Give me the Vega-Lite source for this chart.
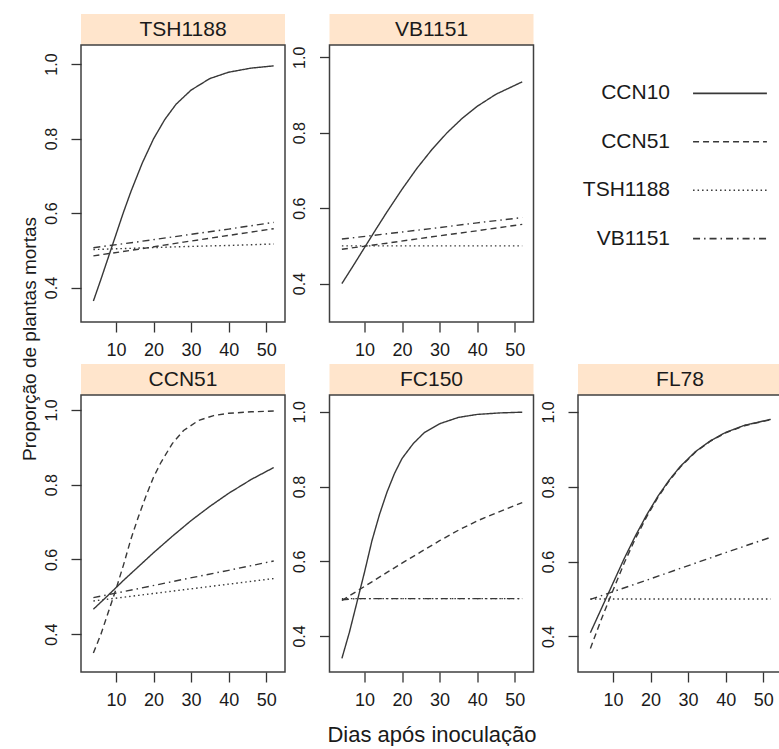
{
  "$schema": "https://vega.github.io/schema/vega-lite/v6.json",
  "padding": {"left": 20, "top": 14, "right": 0, "bottom": 0},
  "background": "white",
  "datasets": {
    "curves": [
      {"panel":"TSH1188","series":"CCN10","day":4,"p":0.364},
      {"panel":"TSH1188","series":"CCN10","day":6,"p":0.422},
      {"panel":"TSH1188","series":"CCN10","day":8,"p":0.482},
      {"panel":"TSH1188","series":"CCN10","day":10,"p":0.542},
      {"panel":"TSH1188","series":"CCN10","day":12,"p":0.602},
      {"panel":"TSH1188","series":"CCN10","day":14,"p":0.658},
      {"panel":"TSH1188","series":"CCN10","day":17,"p":0.734},
      {"panel":"TSH1188","series":"CCN10","day":20,"p":0.799},
      {"panel":"TSH1188","series":"CCN10","day":23,"p":0.851},
      {"panel":"TSH1188","series":"CCN10","day":26,"p":0.892},
      {"panel":"TSH1188","series":"CCN10","day":30,"p":0.930},
      {"panel":"TSH1188","series":"CCN10","day":35,"p":0.961},
      {"panel":"TSH1188","series":"CCN10","day":40,"p":0.978},
      {"panel":"TSH1188","series":"CCN10","day":46,"p":0.989},
      {"panel":"TSH1188","series":"CCN10","day":52,"p":0.995},
      {"panel":"TSH1188","series":"CCN51","day":4,"p":0.485},
      {"panel":"TSH1188","series":"CCN51","day":16,"p":0.503},
      {"panel":"TSH1188","series":"CCN51","day":28,"p":0.522},
      {"panel":"TSH1188","series":"CCN51","day":40,"p":0.540},
      {"panel":"TSH1188","series":"CCN51","day":52,"p":0.558},
      {"panel":"TSH1188","series":"TSH1188","day":4,"p":0.502},
      {"panel":"TSH1188","series":"TSH1188","day":16,"p":0.506},
      {"panel":"TSH1188","series":"TSH1188","day":28,"p":0.510},
      {"panel":"TSH1188","series":"TSH1188","day":40,"p":0.513},
      {"panel":"TSH1188","series":"TSH1188","day":52,"p":0.517},
      {"panel":"TSH1188","series":"VB1151","day":4,"p":0.507},
      {"panel":"TSH1188","series":"VB1151","day":16,"p":0.523},
      {"panel":"TSH1188","series":"VB1151","day":28,"p":0.540},
      {"panel":"TSH1188","series":"VB1151","day":40,"p":0.557},
      {"panel":"TSH1188","series":"VB1151","day":52,"p":0.575},

      {"panel":"VB1151","series":"CCN10","day":4,"p":0.400},
      {"panel":"VB1151","series":"CCN10","day":7,"p":0.447},
      {"panel":"VB1151","series":"CCN10","day":10,"p":0.495},
      {"panel":"VB1151","series":"CCN10","day":13,"p":0.543},
      {"panel":"VB1151","series":"CCN10","day":16,"p":0.590},
      {"panel":"VB1151","series":"CCN10","day":20,"p":0.650},
      {"panel":"VB1151","series":"CCN10","day":24,"p":0.706},
      {"panel":"VB1151","series":"CCN10","day":28,"p":0.756},
      {"panel":"VB1151","series":"CCN10","day":32,"p":0.800},
      {"panel":"VB1151","series":"CCN10","day":36,"p":0.838},
      {"panel":"VB1151","series":"CCN10","day":40,"p":0.870},
      {"panel":"VB1151","series":"CCN10","day":45,"p":0.902},
      {"panel":"VB1151","series":"CCN10","day":52,"p":0.935},
      {"panel":"VB1151","series":"CCN51","day":4,"p":0.491},
      {"panel":"VB1151","series":"CCN51","day":16,"p":0.507},
      {"panel":"VB1151","series":"CCN51","day":28,"p":0.524},
      {"panel":"VB1151","series":"CCN51","day":40,"p":0.540},
      {"panel":"VB1151","series":"CCN51","day":52,"p":0.557},
      {"panel":"VB1151","series":"TSH1188","day":4,"p":0.500},
      {"panel":"VB1151","series":"TSH1188","day":28,"p":0.500},
      {"panel":"VB1151","series":"TSH1188","day":52,"p":0.500},
      {"panel":"VB1151","series":"VB1151","day":4,"p":0.518},
      {"panel":"VB1151","series":"VB1151","day":16,"p":0.532},
      {"panel":"VB1151","series":"VB1151","day":28,"p":0.546},
      {"panel":"VB1151","series":"VB1151","day":40,"p":0.561},
      {"panel":"VB1151","series":"VB1151","day":52,"p":0.575},

      {"panel":"CCN51","series":"CCN10","day":4,"p":0.467},
      {"panel":"CCN51","series":"CCN10","day":8,"p":0.505},
      {"panel":"CCN51","series":"CCN10","day":12,"p":0.544},
      {"panel":"CCN51","series":"CCN10","day":16,"p":0.581},
      {"panel":"CCN51","series":"CCN10","day":20,"p":0.618},
      {"panel":"CCN51","series":"CCN10","day":25,"p":0.662},
      {"panel":"CCN51","series":"CCN10","day":30,"p":0.704},
      {"panel":"CCN51","series":"CCN10","day":35,"p":0.742},
      {"panel":"CCN51","series":"CCN10","day":40,"p":0.777},
      {"panel":"CCN51","series":"CCN10","day":46,"p":0.814},
      {"panel":"CCN51","series":"CCN10","day":52,"p":0.846},
      {"panel":"CCN51","series":"CCN51","day":4,"p":0.350},
      {"panel":"CCN51","series":"CCN51","day":6,"p":0.400},
      {"panel":"CCN51","series":"CCN51","day":8,"p":0.460},
      {"panel":"CCN51","series":"CCN51","day":10,"p":0.520},
      {"panel":"CCN51","series":"CCN51","day":12,"p":0.585},
      {"panel":"CCN51","series":"CCN51","day":14,"p":0.655},
      {"panel":"CCN51","series":"CCN51","day":16,"p":0.715},
      {"panel":"CCN51","series":"CCN51","day":18,"p":0.770},
      {"panel":"CCN51","series":"CCN51","day":20,"p":0.820},
      {"panel":"CCN51","series":"CCN51","day":22,"p":0.860},
      {"panel":"CCN51","series":"CCN51","day":25,"p":0.910},
      {"panel":"CCN51","series":"CCN51","day":28,"p":0.945},
      {"panel":"CCN51","series":"CCN51","day":32,"p":0.972},
      {"panel":"CCN51","series":"CCN51","day":36,"p":0.985},
      {"panel":"CCN51","series":"CCN51","day":40,"p":0.991},
      {"panel":"CCN51","series":"CCN51","day":46,"p":0.995},
      {"panel":"CCN51","series":"CCN51","day":52,"p":0.997},
      {"panel":"CCN51","series":"TSH1188","day":4,"p":0.489},
      {"panel":"CCN51","series":"TSH1188","day":16,"p":0.504},
      {"panel":"CCN51","series":"TSH1188","day":28,"p":0.519},
      {"panel":"CCN51","series":"TSH1188","day":40,"p":0.534},
      {"panel":"CCN51","series":"TSH1188","day":52,"p":0.549},
      {"panel":"CCN51","series":"VB1151","day":4,"p":0.498},
      {"panel":"CCN51","series":"VB1151","day":16,"p":0.522},
      {"panel":"CCN51","series":"VB1151","day":28,"p":0.547},
      {"panel":"CCN51","series":"VB1151","day":40,"p":0.571},
      {"panel":"CCN51","series":"VB1151","day":52,"p":0.596},

      {"panel":"FC150","series":"CCN10","day":4,"p":0.340},
      {"panel":"FC150","series":"CCN10","day":6,"p":0.410},
      {"panel":"FC150","series":"CCN10","day":8,"p":0.490},
      {"panel":"FC150","series":"CCN10","day":10,"p":0.570},
      {"panel":"FC150","series":"CCN10","day":12,"p":0.655},
      {"panel":"FC150","series":"CCN10","day":14,"p":0.725},
      {"panel":"FC150","series":"CCN10","day":16,"p":0.785},
      {"panel":"FC150","series":"CCN10","day":18,"p":0.835},
      {"panel":"FC150","series":"CCN10","day":20,"p":0.875},
      {"panel":"FC150","series":"CCN10","day":23,"p":0.915},
      {"panel":"FC150","series":"CCN10","day":26,"p":0.945},
      {"panel":"FC150","series":"CCN10","day":30,"p":0.968},
      {"panel":"FC150","series":"CCN10","day":35,"p":0.985},
      {"panel":"FC150","series":"CCN10","day":40,"p":0.993},
      {"panel":"FC150","series":"CCN10","day":46,"p":0.997},
      {"panel":"FC150","series":"CCN10","day":52,"p":0.999},
      {"panel":"FC150","series":"CCN51","day":4,"p":0.495},
      {"panel":"FC150","series":"CCN51","day":8,"p":0.520},
      {"panel":"FC150","series":"CCN51","day":12,"p":0.545},
      {"panel":"FC150","series":"CCN51","day":16,"p":0.570},
      {"panel":"FC150","series":"CCN51","day":20,"p":0.595},
      {"panel":"FC150","series":"CCN51","day":25,"p":0.625},
      {"panel":"FC150","series":"CCN51","day":30,"p":0.655},
      {"panel":"FC150","series":"CCN51","day":35,"p":0.683},
      {"panel":"FC150","series":"CCN51","day":40,"p":0.708},
      {"panel":"FC150","series":"CCN51","day":46,"p":0.733},
      {"panel":"FC150","series":"CCN51","day":52,"p":0.757},
      {"panel":"FC150","series":"TSH1188","day":4,"p":0.500},
      {"panel":"FC150","series":"TSH1188","day":28,"p":0.500},
      {"panel":"FC150","series":"TSH1188","day":52,"p":0.500},
      {"panel":"FC150","series":"VB1151","day":4,"p":0.497},
      {"panel":"FC150","series":"VB1151","day":8,"p":0.500},
      {"panel":"FC150","series":"VB1151","day":28,"p":0.500},
      {"panel":"FC150","series":"VB1151","day":52,"p":0.500},

      {"panel":"FL78","series":"CCN10","day":4,"p":0.410},
      {"panel":"FL78","series":"CCN10","day":7,"p":0.476},
      {"panel":"FL78","series":"CCN10","day":10,"p":0.542},
      {"panel":"FL78","series":"CCN10","day":13,"p":0.608},
      {"panel":"FL78","series":"CCN10","day":16,"p":0.669},
      {"panel":"FL78","series":"CCN10","day":19,"p":0.725},
      {"panel":"FL78","series":"CCN10","day":22,"p":0.775},
      {"panel":"FL78","series":"CCN10","day":25,"p":0.818},
      {"panel":"FL78","series":"CCN10","day":28,"p":0.855},
      {"panel":"FL78","series":"CCN10","day":32,"p":0.894},
      {"panel":"FL78","series":"CCN10","day":36,"p":0.923},
      {"panel":"FL78","series":"CCN10","day":40,"p":0.945},
      {"panel":"FL78","series":"CCN10","day":45,"p":0.964},
      {"panel":"FL78","series":"CCN10","day":52,"p":0.980},
      {"panel":"FL78","series":"CCN51","day":4,"p":0.368},
      {"panel":"FL78","series":"CCN51","day":7,"p":0.448},
      {"panel":"FL78","series":"CCN51","day":10,"p":0.523},
      {"panel":"FL78","series":"CCN51","day":13,"p":0.596},
      {"panel":"FL78","series":"CCN51","day":16,"p":0.662},
      {"panel":"FL78","series":"CCN51","day":19,"p":0.720},
      {"panel":"FL78","series":"CCN51","day":22,"p":0.772},
      {"panel":"FL78","series":"CCN51","day":25,"p":0.816},
      {"panel":"FL78","series":"CCN51","day":28,"p":0.853},
      {"panel":"FL78","series":"CCN51","day":32,"p":0.893},
      {"panel":"FL78","series":"CCN51","day":36,"p":0.922},
      {"panel":"FL78","series":"CCN51","day":40,"p":0.944},
      {"panel":"FL78","series":"CCN51","day":45,"p":0.963},
      {"panel":"FL78","series":"CCN51","day":52,"p":0.979},
      {"panel":"FL78","series":"TSH1188","day":4,"p":0.500},
      {"panel":"FL78","series":"TSH1188","day":28,"p":0.500},
      {"panel":"FL78","series":"TSH1188","day":52,"p":0.500},
      {"panel":"FL78","series":"VB1151","day":4,"p":0.499},
      {"panel":"FL78","series":"VB1151","day":16,"p":0.540},
      {"panel":"FL78","series":"VB1151","day":28,"p":0.582},
      {"panel":"FL78","series":"VB1151","day":40,"p":0.624},
      {"panel":"FL78","series":"VB1151","day":52,"p":0.665}
    ],
    "legend": [
      {"series":"CCN10"},
      {"series":"CCN51"},
      {"series":"TSH1188"},
      {"series":"VB1151"}
    ]
  },
  "config": {
    "font": "Liberation Sans",
    "view": {"stroke": "#404040", "strokeWidth": 1.5},
    "axis": {"grid": false, "domain": false, "tickColor": "#333333", "tickSize": 10, "tickWidth": 1.3, "labelColor": "#1a1a1a", "labelFont": "Liberation Sans", "titleFont": "Liberation Sans", "titleFontWeight": "normal", "titleColor": "#1a1a1a"},
    "axisX": {"labelFontSize": 18, "labelPadding": 9, "labelAngle": 0},
    "axisY": {"labelFontSize": 16, "labelAngle": 270, "labelPadding": 12}
  },
  "spacing": 2,
  "hconcat": [
    {
      "width": 20, "height": 650,
      "view": {"stroke": null},
      "data": {"values": [{"t": "Proporção de plantas mortas"}]},
      "mark": {"type": "text", "angle": 270, "fontSize": 19, "baseline": "middle", "align": "center", "color": "#1a1a1a"},
      "encoding": {"text": {"field": "t", "type": "nominal"}}
    },
    {
      "spacing": 4,
      "vconcat": [
        {
          "columns": 3,
          "bounds": "flush",
          "spacing": {"row": 0, "column": 44.5},
          "concat": [
            {
              "width": 204, "height": 31, "view": {"fill": "#ffe5cc"},
              "data": {"values": [{"panel": "TSH1188"}]},
              "mark": {"type": "text", "fontSize": 21, "color": "#1a1a1a"},
              "encoding": {"text": {"field": "panel", "type": "nominal"}}
            },
            {
              "width": 204, "height": 31, "view": {"fill": "#ffe5cc"},
              "data": {"values": [{"panel": "VB1151"}]},
              "mark": {"type": "text", "fontSize": 21, "color": "#1a1a1a"},
              "encoding": {"text": {"field": "panel", "type": "nominal"}}
            },
            {
              "width": 204, "height": 31, "view": {"stroke": null},
              "data": {"values": [{"panel": ""}]},
              "mark": {"type": "text", "fontSize": 21},
              "encoding": {"text": {"field": "panel", "type": "nominal"}}
            },
            {
              "width": 204, "height": 277,
              "data": {"name": "curves"},
              "transform": [{"filter": "datum.panel === 'TSH1188'"}],
              "mark": {"type": "line", "strokeWidth": 1.4, "color": "#383838"},
              "encoding": {
                "x": {"field": "day", "type": "quantitative", "scale": {"domain": [0.7, 55], "nice": false, "zero": false}, "axis": {"values": [10, 20, 30, 40, 50], "title": null}},
                "y": {"field": "p", "type": "quantitative", "scale": {"domain": [0.3076, 1.051], "nice": false, "zero": false}, "axis": {"values": [0.4, 0.6, 0.8, 1.0], "format": ".1f", "title": null}},
                "strokeDash": {"field": "series", "type": "nominal", "legend": null, "scale": {"domain": ["CCN10", "CCN51", "TSH1188", "VB1151"], "range": [[1, 0], [6, 4], [1.5, 3], [7, 4, 1.5, 4]]}}
              }
            },
            {
              "width": 204, "height": 277,
              "data": {"name": "curves"},
              "transform": [{"filter": "datum.panel === 'VB1151'"}],
              "mark": {"type": "line", "strokeWidth": 1.4, "color": "#383838"},
              "encoding": {
                "x": {"field": "day", "type": "quantitative", "scale": {"domain": [0.7, 55], "nice": false, "zero": false}, "axis": {"values": [10, 20, 30, 40, 50], "title": null}},
                "y": {"field": "p", "type": "quantitative", "scale": {"domain": [0.298, 1.0327], "nice": false, "zero": false}, "axis": {"values": [0.4, 0.6, 0.8, 1.0], "format": ".1f", "title": null}},
                "strokeDash": {"field": "series", "type": "nominal", "legend": null, "scale": {"domain": ["CCN10", "CCN51", "TSH1188", "VB1151"], "range": [[1, 0], [6, 4], [1.5, 3], [7, 4, 1.5, 4]]}}
              }
            },
            {
              "width": 204, "height": 242,
              "view": {"stroke": null},
              "data": {"name": "legend"},
              "layer": [
                {
                  "mark": {"type": "text", "fontSize": 21, "align": "right", "baseline": "middle", "color": "#1a1a1a"},
                  "encoding": {
                    "x": {"datum": 0.451, "type": "quantitative", "scale": {"domain": [0, 1], "nice": false, "zero": false}, "axis": null},
                    "y": {"field": "series", "type": "ordinal", "scale": {"type": "point", "padding": 1.524}, "axis": null},
                    "text": {"field": "series", "type": "nominal"}
                  }
                },
                {
                  "mark": {"type": "rule", "strokeWidth": 1.6, "color": "#383838"},
                  "encoding": {
                    "x": {"datum": 0.564, "type": "quantitative", "scale": {"domain": [0, 1], "nice": false, "zero": false}, "axis": null},
                    "x2": {"datum": 0.926},
                    "y": {"field": "series", "type": "ordinal", "scale": {"type": "point", "padding": 1.524}, "axis": null},
                    "strokeDash": {"field": "series", "type": "nominal", "legend": null, "scale": {"domain": ["CCN10", "CCN51", "TSH1188", "VB1151"], "range": [[1, 0], [6, 4], [1.5, 3], [7, 4, 1.5, 4]]}}
                  }
                }
              ]
            }
          ]
        },
        {
          "columns": 3,
          "bounds": "flush",
          "spacing": {"row": 0, "column": 44.5},
          "concat": [
            {
              "width": 204, "height": 31, "view": {"fill": "#ffe5cc"},
              "data": {"values": [{"panel": "CCN51"}]},
              "mark": {"type": "text", "fontSize": 21, "color": "#1a1a1a"},
              "encoding": {"text": {"field": "panel", "type": "nominal"}}
            },
            {
              "width": 204, "height": 31, "view": {"fill": "#ffe5cc"},
              "data": {"values": [{"panel": "FC150"}]},
              "mark": {"type": "text", "fontSize": 21, "color": "#1a1a1a"},
              "encoding": {"text": {"field": "panel", "type": "nominal"}}
            },
            {
              "width": 204, "height": 31, "view": {"fill": "#ffe5cc"},
              "data": {"values": [{"panel": "FL78"}]},
              "mark": {"type": "text", "fontSize": 21, "color": "#1a1a1a"},
              "encoding": {"text": {"field": "panel", "type": "nominal"}}
            },
            {
              "width": 204, "height": 277,
              "data": {"name": "curves"},
              "transform": [{"filter": "datum.panel === 'CCN51'"}],
              "mark": {"type": "line", "strokeWidth": 1.4, "color": "#383838"},
              "encoding": {
                "x": {"field": "day", "type": "quantitative", "scale": {"domain": [0.7, 55], "nice": false, "zero": false}, "axis": {"values": [10, 20, 30, 40, 50], "title": null}},
                "y": {"field": "p", "type": "quantitative", "scale": {"domain": [0.299, 1.04], "nice": false, "zero": false}, "axis": {"values": [0.4, 0.6, 0.8, 1.0], "format": ".1f", "title": null}},
                "strokeDash": {"field": "series", "type": "nominal", "legend": null, "scale": {"domain": ["CCN10", "CCN51", "TSH1188", "VB1151"], "range": [[1, 0], [6, 4], [1.5, 3], [7, 4, 1.5, 4]]}}
              }
            },
            {
              "width": 204, "height": 277,
              "data": {"name": "curves"},
              "transform": [{"filter": "datum.panel === 'FC150'"}],
              "mark": {"type": "line", "strokeWidth": 1.4, "color": "#383838"},
              "encoding": {
                "x": {"field": "day", "type": "quantitative", "scale": {"domain": [0.7, 55], "nice": false, "zero": false}, "axis": {"values": [10, 20, 30, 40, 50], "title": "Dias após inoculação", "titleFontSize": 22, "titlePadding": 15}},
                "y": {"field": "p", "type": "quantitative", "scale": {"domain": [0.3036, 1.045], "nice": false, "zero": false}, "axis": {"values": [0.4, 0.6, 0.8, 1.0], "format": ".1f", "title": null}},
                "strokeDash": {"field": "series", "type": "nominal", "legend": null, "scale": {"domain": ["CCN10", "CCN51", "TSH1188", "VB1151"], "range": [[1, 0], [6, 4], [1.5, 3], [7, 4, 1.5, 4]]}}
              }
            },
            {
              "width": 204, "height": 277,
              "data": {"name": "curves"},
              "transform": [{"filter": "datum.panel === 'FL78'"}],
              "mark": {"type": "line", "strokeWidth": 1.4, "color": "#383838"},
              "encoding": {
                "x": {"field": "day", "type": "quantitative", "scale": {"domain": [0.7, 55], "nice": false, "zero": false}, "axis": {"values": [10, 20, 30, 40, 50], "title": null}},
                "y": {"field": "p", "type": "quantitative", "scale": {"domain": [0.305, 1.045], "nice": false, "zero": false}, "axis": {"values": [0.4, 0.6, 0.8, 1.0], "format": ".1f", "title": null}},
                "strokeDash": {"field": "series", "type": "nominal", "legend": null, "scale": {"domain": ["CCN10", "CCN51", "TSH1188", "VB1151"], "range": [[1, 0], [6, 4], [1.5, 3], [7, 4, 1.5, 4]]}}
              }
            }
          ]
        }
      ]
    }
  ]
}
